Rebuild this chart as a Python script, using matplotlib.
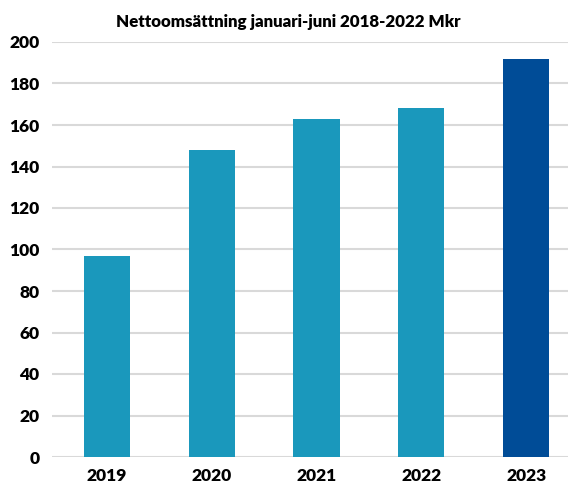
import matplotlib
matplotlib.use("Agg")
import matplotlib.pyplot as plt

years = ["2019", "2020", "2021", "2022", "2023"]
values = [97, 148, 163, 168, 192]
colors = ["#1A98BC", "#1A98BC", "#1A98BC", "#1A98BC", "#004C97"]
yticks = [0, 20, 40, 60, 80, 100, 120, 140, 160, 180, 200]

plt.rcParams['font.family'] = ['Lato', 'DejaVu Sans']

fig = plt.figure(figsize=(5.68, 4.84), dpi=100)
ax = fig.add_axes([52/568, 27/484, (568-52)/568, (457-42)/484])
x = list(range(len(years)))
ax.bar(x, values, width=0.44, color=colors, zorder=3)
ax.set_xlim(-0.525, 4.40)
ax.set_ylim(0, 200)
ax.set_yticks(yticks)
ax.set_yticklabels([str(t) for t in yticks], fontsize=12.5, fontweight='heavy')
ax.set_xticks(x)
ax.set_xticklabels(years, fontsize=12.5, fontweight='heavy')
ax.yaxis.grid(True, color="#D9D9D9", linewidth=1.5, zorder=0)
ax.tick_params(axis='both', length=0)
ax.tick_params(axis='y', pad=9)
ax.tick_params(axis='x', pad=8)
for s in ax.spines.values():
    s.set_visible(False)
fig.text(288/568, 1-22/484, "Nettoomsättning januari-juni 2018-2022 Mkr",
         ha='center', va='center', fontsize=12.2, fontweight='heavy')
fig.savefig("out.png", dpi=100)
